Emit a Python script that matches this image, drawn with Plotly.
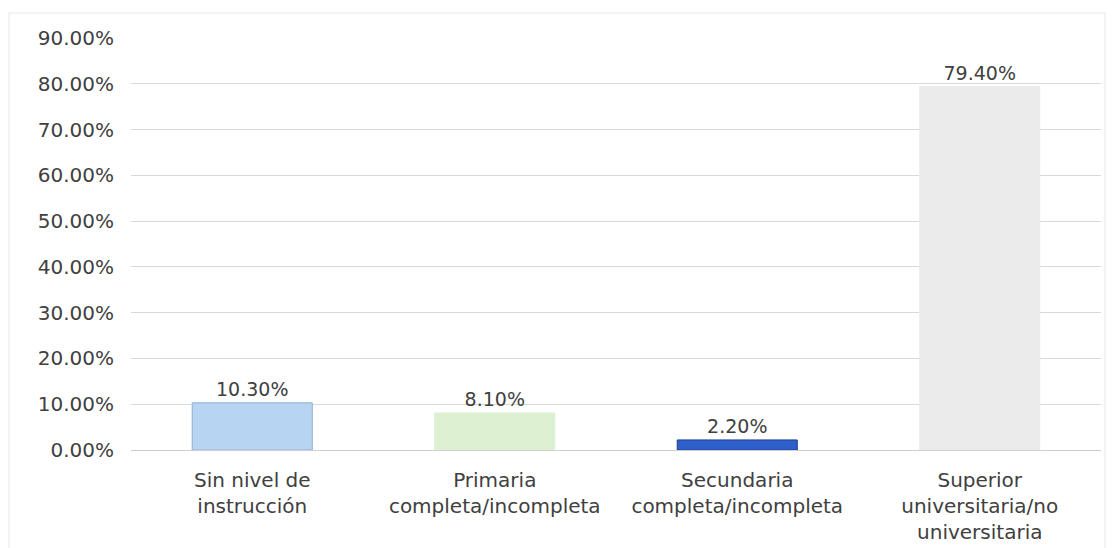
import plotly.graph_objects as go

categories = [
    "Sin nivel de<br>instrucción",
    "Primaria<br>completa/incompleta",
    "Secundaria<br>completa/incompleta",
    "Superior<br>universitaria/no<br>universitaria",
]
values = [10.3, 8.1, 2.2, 79.4]
bar_colors = ["#B7D5F2", "#DDF1D2", "#2F5FCB", "#EBEBEB"]
line_colors = ["#8FB0D4", "#DDF1D2", "#1E3F8F", "#EBEBEB"]
tick_vals = [0, 10, 20, 30, 40, 50, 60, 70, 80, 90]

W, H = 1119, 548
FONT = "'DejaVu Sans', Verdana, sans-serif"
TEXT = "#404040"

fig = go.Figure(
    go.Bar(
        x=categories,
        y=values,
        marker=dict(color=bar_colors, line=dict(color=line_colors, width=1)),
        width=0.495,
        text=[f"{v:.2f}%" for v in values],
        textposition="outside",
        cliponaxis=False,
        textfont=dict(size=19, color=TEXT, family=FONT),
    )
)

fig.update_layout(
    width=W,
    height=H,
    margin=dict(l=131, r=18, t=38, b=98),
    paper_bgcolor="white",
    plot_bgcolor="white",
    showlegend=False,
    font=dict(family=FONT, size=19, color=TEXT),
    shapes=[
        dict(
            type="rect",
            xref="paper",
            yref="paper",
            x0=(9 - 131) / (W - 131 - 18),
            x1=(1105 - 131) / (W - 131 - 18),
            y0=-1.5,
            y1=(H - 13 - 98) / (H - 38 - 98),
            line=dict(color="#E6E6E6", width=1),
            layer="below",
        )
    ],
)

fig.update_xaxes(
    showgrid=False,
    showline=True,
    linecolor="#CFCFCF",
    linewidth=1,
    ticks="",
    automargin=False,
    ticklabelstandoff=12,
    tickfont=dict(size=20, color=TEXT, family=FONT),
)
fig.update_yaxes(
    range=[0, 90],
    tickvals=tick_vals,
    ticktext=[f"{v:.2f}%" for v in tick_vals],
    showgrid=True,
    gridcolor="#D9D9D9",
    gridwidth=1,
    zeroline=False,
    showline=False,
    ticks="",
    automargin=False,
    ticklabelstandoff=16,
    tickfont=dict(size=20, color=TEXT, family=FONT),
)

fig.write_html("out.html")
